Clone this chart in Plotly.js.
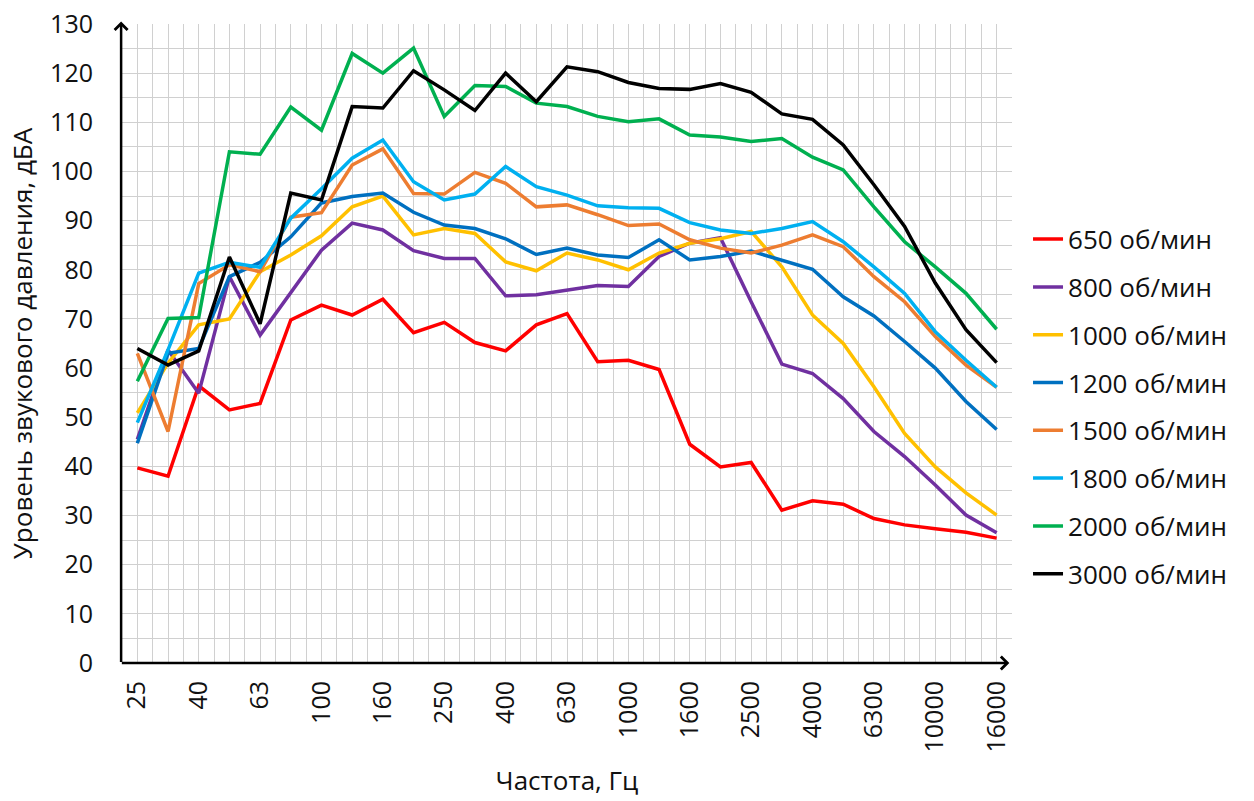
<!DOCTYPE html>
<html>
<head>
<meta charset="utf-8">
<script src="https://cdn.plot.ly/plotly-3.0.1.min.js"></script>
<style>
html,body{margin:0;padding:0;background:#fff;}
#chart{width:1254px;height:801px;}
</style>
</head>
<body>
<div id="chart"></div>
<script>
// Third-octave band centre frequencies, Hz
const freqs = [25, 31.5, 40, 50, 63, 80, 100, 125, 160, 200, 250, 315, 400, 500, 630, 800, 1000, 1250, 1600, 2000, 2500, 3150, 4000, 5000, 6300, 8000, 10000, 12500, 16000];
// Frequencies that carry a tick label
const tickFreqs = [25, 40, 63, 100, 160, 250, 400, 630, 1000, 1600, 2500, 4000, 6300, 10000, 16000];

const seriesNames = ["650 об/мин", "800 об/мин", "1000 об/мин", "1200 об/мин", "1500 об/мин", "1800 об/мин", "2000 об/мин", "3000 об/мин"];

const rpm650  = [39.7, 38.0, 56.4, 51.5, 52.8, 69.8, 72.8, 70.8, 74.0, 67.2, 69.3, 65.2, 63.5, 68.8, 71.1, 61.3, 61.6, 59.7, 44.5, 39.9, 40.8, 31.1, 33.0, 32.3, 29.4, 28.1, 27.3, 26.6, 25.4];
const rpm800  = [45.5, 63.7, 54.9, 78.6, 66.7, 75.5, 84.0, 89.5, 88.1, 83.9, 82.3, 82.3, 74.7, 74.9, 75.9, 76.8, 76.6, 82.7, 85.4, 86.5, 73.5, 60.8, 58.9, 53.8, 47.1, 42.0, 36.2, 30.1, 26.5];
const rpm1000 = [50.9, 61.0, 68.8, 70.0, 79.6, 83.0, 86.9, 92.8, 95.0, 87.1, 88.4, 87.4, 81.6, 79.8, 83.4, 82.0, 80.0, 83.4, 85.4, 86.3, 87.8, 80.6, 70.8, 65.0, 56.2, 46.7, 39.9, 34.6, 30.1];
const rpm1200 = [44.7, 63.0, 64.0, 78.6, 81.5, 86.7, 93.6, 94.9, 95.6, 91.7, 89.1, 88.4, 86.3, 83.1, 84.4, 83.0, 82.5, 86.1, 82.0, 82.7, 83.8, 82.0, 80.1, 74.5, 70.6, 65.4, 60.0, 53.2, 47.5];
const rpm1500 = [63.0, 47.1, 77.2, 81.0, 79.6, 90.7, 91.6, 101.3, 104.6, 95.5, 95.4, 99.8, 97.6, 92.8, 93.2, 91.2, 89.0, 89.3, 86.1, 84.4, 83.4, 85.0, 87.1, 84.7, 78.6, 73.5, 66.4, 60.6, 56.1];
const rpm1800 = [48.9, 63.7, 79.3, 81.5, 80.5, 90.5, 96.5, 102.7, 106.4, 97.9, 94.2, 95.4, 101.0, 96.9, 95.2, 93.0, 92.6, 92.5, 89.6, 88.1, 87.4, 88.4, 89.8, 85.7, 80.6, 75.2, 67.4, 61.6, 56.1];
const rpm2000 = [57.3, 70.1, 70.3, 104.0, 103.5, 113.1, 108.4, 124.0, 120.0, 125.1, 111.2, 117.5, 117.3, 113.9, 113.2, 111.2, 110.1, 110.7, 107.4, 107.0, 106.1, 106.7, 102.9, 100.3, 92.8, 85.7, 80.6, 75.2, 67.9];
const rpm3000 = [64.0, 60.6, 63.5, 82.6, 69.0, 95.6, 94.2, 113.2, 112.9, 120.5, 116.6, 112.4, 120.0, 114.2, 121.3, 120.3, 118.1, 116.9, 116.7, 117.9, 116.1, 111.7, 110.6, 105.4, 97.3, 88.8, 77.3, 67.8, 61.1];

const seriesValues = [rpm650, rpm800, rpm1000, rpm1200, rpm1500, rpm1800, rpm2000, rpm3000];
const seriesColors = ["#FF0000", "#7030A0", "#FFC000", "#0070C0", "#ED7D31", "#00B0F0", "#00B050", "#000000"];

const idx = freqs.map((f, i) => i);
const tickIdx = tickFreqs.map(f => freqs.indexOf(f));
const tickText = tickFreqs.map(f => String(f));

const traces = seriesValues.map((vals, k) => ({
  type: "scatter",
  mode: "lines",
  x: idx,
  y: vals,
  name: seriesNames[k],
  legendgroup: "g" + k,
  line: {color: seriesColors[k], width: 3.5},
  hoverinfo: "skip"
}));

const tickFont = {family: "Open Sans, DejaVu Sans, sans-serif", size: 25, color: "#111"};
const titleFont = {family: "Open Sans, DejaVu Sans, sans-serif", size: 26, color: "#111"};
const gridColor = "#d0d0d0";

const layout = {
  width: 1254,
  height: 801,
  margin: {l: 122, r: 242, t: 24, b: 138, pad: 0},
  paper_bgcolor: "#ffffff",
  plot_bgcolor: "#ffffff",
  showlegend: true,
  legend: {
    x: 1.018, xanchor: "left",
    y: 0.70, yanchor: "top",
    traceorder: "grouped",
    tracegroupgap: 11,
    font: {family: "Open Sans, DejaVu Sans, sans-serif", size: 26, color: "#111"},
    bgcolor: "rgba(0,0,0,0)",
    itemwidth: 30
  },
  xaxis: {
    range: [-0.5, 28.5],
    tickmode: "array",
    tickvals: tickIdx,
    ticktext: tickText,
    tickangle: -90,
    ticks: "",
    ticklabelstandoff: 12,
    tickfont: tickFont,
    showgrid: false,
    zeroline: false,
    showline: false,
    minor: {dtick: 0.5, tick0: 0, showgrid: true, gridcolor: gridColor, gridwidth: 1},
    title: {text: "Частота, Гц", font: titleFont, standoff: 20},
    fixedrange: true
  },
  yaxis: {
    range: [0, 130],
    dtick: 10,
    tick0: 0,
    ticks: "",
    ticklabelstandoff: 28,
    tickfont: tickFont,
    showgrid: true,
    gridcolor: gridColor,
    gridwidth: 1,
    zeroline: false,
    showline: false,
    minor: {dtick: 5, showgrid: true, gridcolor: gridColor, gridwidth: 1},
    title: {text: "Уровень звукового давления, дБА", font: titleFont, standoff: 10},
    fixedrange: true
  },
  annotations: [
    {xref: "paper", yref: "paper", x: -0.001, y: 1.004, text: "", showarrow: true,
     ax: 0, ay: 642, arrowhead: 4, arrowsize: 1, arrowwidth: 2.5, arrowcolor: "#000"},
    {xref: "paper", yref: "paper", x: 0.997, y: 0, text: "", showarrow: true,
     ax: -889, ay: 0, arrowhead: 4, arrowsize: 1, arrowwidth: 2.5, arrowcolor: "#000"}
  ]
};

Plotly.newPlot("chart", traces, layout, {displayModeBar: false, staticPlot: true});
</script>
</body>
</html>
